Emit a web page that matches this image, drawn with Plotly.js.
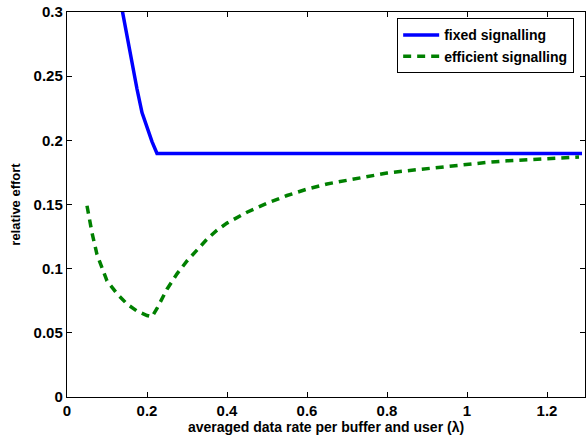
<!DOCTYPE html>
<html>
<head>
<meta charset="utf-8">
<script src="https://cdn.plot.ly/plotly-3.0.1.min.js"></script>
<style>html,body{margin:0;padding:0;background:#fff;}#chart{width:587px;height:436px;}</style>
</head>
<body>
<div id="chart"></div>
<script>
const fixedX = [0.125, 0.15, 0.1625, 0.175, 0.1875, 0.2, 0.2125, 0.225, 0.5, 0.75, 1.0, 1.2875];
const fixedY = [0.323, 0.28, 0.26, 0.24, 0.2216, 0.21, 0.199, 0.1898, 0.1898, 0.1898, 0.1898, 0.1898];

const effX = [0.05, 0.0625, 0.075, 0.1, 0.125, 0.15, 0.175, 0.2, 0.2125, 0.225, 0.25, 0.275, 0.3, 0.325, 0.35, 0.375, 0.4, 0.45, 0.5, 0.55, 0.6, 0.65, 0.7, 0.75, 0.8, 0.85, 0.9, 0.95, 1.0, 1.05, 1.1, 1.15, 1.2, 1.25, 1.28];
const effY = [0.149, 0.128, 0.111, 0.0905, 0.0805, 0.0725, 0.067, 0.0635, 0.0625, 0.069, 0.084, 0.096, 0.106, 0.115, 0.123, 0.130, 0.1355, 0.144, 0.151, 0.157, 0.162, 0.166, 0.169, 0.172, 0.1745, 0.1763, 0.178, 0.1795, 0.1814, 0.1828, 0.184, 0.185, 0.186, 0.1867, 0.187];

const xTicks = [0, 0.2, 0.4, 0.6, 0.8, 1, 1.2];
const xTickText = ['0', '0.2', '0.4', '0.6', '0.8', '1', '1.2'];
const yTicks = [0, 0.05, 0.1, 0.15, 0.2, 0.25, 0.3];
const yTickText = ['0', '0.05', '0.1', '0.15', '0.2', '0.25', '0.3'];

const fam = 'Liberation Sans, Arial, Helvetica, sans-serif';
const b = s => '<b>' + s + '</b>';

const traces = [
  {x: fixedX, y: fixedY, mode: 'lines', name: b('fixed signalling'),
   line: {color: '#0000ff', width: 3.5}},
  {x: effX, y: effY, mode: 'lines', name: b('efficient signalling'),
   line: {color: '#008000', width: 3.5, dash: '8px,6px'}}
];

const axisCommon = {
  showgrid: false, zeroline: false, showline: true, mirror: 'ticks',
  linecolor: '#000', linewidth: 1.2, ticks: 'inside', ticklen: 5, tickcolor: '#000',
  tickfont: {family: fam, size: 15, color: '#000'}
};

const layout = {
  width: 587, height: 436,
  margin: {l: 67, r: 2, t: 12, b: 39},
  paper_bgcolor: '#fff', plot_bgcolor: '#fff',
  showlegend: true,
  legend: {x: 0.637, y: 0.984, xanchor: 'left', yanchor: 'top',
           bordercolor: '#000', borderwidth: 1.2, bgcolor: '#fff',
           font: {family: fam, size: 14, color: '#000'},
           itemwidth: 36, tracegroupgap: 0},
  xaxis: Object.assign({}, axisCommon, {
    range: [0, 1.295], tickmode: 'array', tickvals: xTicks, ticktext: xTickText.map(b),
    title: {text: b('averaged data rate per buffer and user (λ)'), standoff: 2,
            font: {family: fam, size: 14, color: '#000'}}
  }),
  yaxis: Object.assign({}, axisCommon, {
    range: [0, 0.3], tickmode: 'array', tickvals: yTicks, ticktext: yTickText.map(b),
    title: {text: b('relative effort'), standoff: 10,
            font: {family: fam, size: 13, color: '#000'}}
  })
};

Plotly.newPlot('chart', traces, layout, {displayModeBar: false, staticPlot: true});
</script>
</body>
</html>
